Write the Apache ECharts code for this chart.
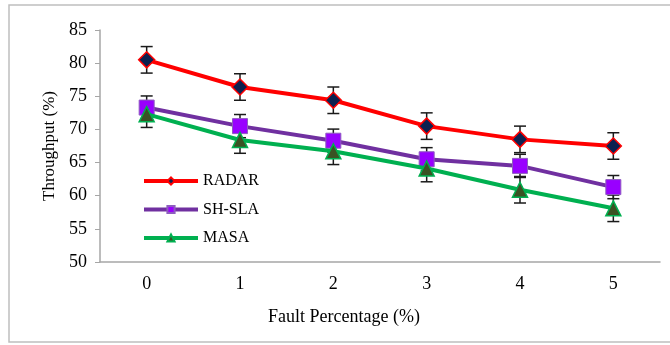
<!DOCTYPE html>
<html>
<head>
<meta charset="utf-8">
<script src="https://cdn.jsdelivr.net/npm/echarts@6/dist/echarts.min.js"></script>
<style>html,body{margin:0;padding:0;background:#fff;}#c{width:670px;height:345px;}</style>
</head>
<body>
<div id="c"></div>
<script>
var categories = ['0', '1', '2', '3', '4', '5'];
var radar = [80.5, 76.4, 74.4, 70.5, 68.5, 67.5];
var shsla = [73.3, 70.5, 68.3, 65.5, 64.5, 61.3];
var masa = [72.3, 68.4, 66.7, 64.1, 60.9, 58.1];
var radarErr = [2, 2, 2, 2, 2, 2];
var shslaErr = [1.75, 1.75, 1.75, 1.75, 1.75, 1.75];
var masaErr = [2, 2, 2, 2, 2, 2];
var yTicks = [50, 55, 60, 65, 70, 75, 80, 85];

var FONT = '"Liberation Serif", "Times New Roman", serif';

function errData(vals, errs) {
  return vals.map(function (v, i) { return [i, v - errs[i], v + errs[i]]; });
}
function errSeries(vals, errs) {
  return {
    type: 'custom',
    data: errData(vals, errs),
    z: 5,
    silent: true,
    encode: { x: 0, y: [1, 2] },
    renderItem: function (params, api) {
      var x = api.value(0);
      var lo = api.coord([x, api.value(1)]);
      var hi = api.coord([x, api.value(2)]);
      var hw = 6;
      var st = { stroke: '#1a1a1a', lineWidth: 1.5 };
      return {
        type: 'group',
        children: [
          { type: 'line', shape: { x1: hi[0], y1: hi[1], x2: lo[0], y2: lo[1] }, style: st },
          { type: 'line', shape: { x1: hi[0] - hw, y1: hi[1], x2: hi[0] + hw, y2: hi[1] }, style: st },
          { type: 'line', shape: { x1: lo[0] - hw, y1: lo[1], x2: lo[0] + hw, y2: lo[1] }, style: st }
        ]
      };
    }
  };
}

var chart = echarts.init(document.getElementById('c'));
chart.setOption({
  animation: false,
  backgroundColor: '#fff',
  textStyle: { fontFamily: FONT },
  graphic: [{
    type: 'rect',
    shape: { x: 9, y: 5, width: 670, height: 337 },
    style: { fill: 'none', stroke: '#bfbfbf', lineWidth: 1.5 },
    silent: true
  }],
  grid: { left: 100, right: 10, top: 30, bottom: 83 },
  legend: {
    orient: 'vertical',
    left: 137,
    top: 168,
    itemWidth: 54,
    itemHeight: 9,
    itemGap: 12.5,
    lineStyle: { width: 4 },
    textStyle: { fontFamily: FONT, fontSize: 16, color: '#000' },
    data: ['RADAR', 'SH-SLA', 'MASA']
  },
  xAxis: {
    type: 'category',
    data: categories,
    boundaryGap: true,
    name: 'Fault Percentage (%)',
    nameLocation: 'middle',
    nameGap: 46,
    nameTextStyle: { fontFamily: FONT, fontSize: 18, color: '#000', padding: [0, 72, 0, 0] },
    axisLine: { lineStyle: { color: '#a6a6a6', width: 1.5 } },
    axisTick: { show: false },
    axisLabel: { fontFamily: FONT, fontSize: 18, color: '#000', margin: 13 }
  },
  yAxis: {
    type: 'value',
    min: yTicks[0],
    max: yTicks[yTicks.length - 1],
    interval: 5,
    name: 'Throughput (%)',
    nameLocation: 'middle',
    nameGap: 40,
    nameTextStyle: { fontFamily: FONT, fontSize: 17, color: '#000' },
    axisLine: { show: true, lineStyle: { color: '#a6a6a6', width: 1.5 } },
    axisTick: { show: true, length: 5, lineStyle: { color: '#a6a6a6' } },
    splitLine: { show: false },
    axisLabel: { fontFamily: FONT, fontSize: 18, color: '#000', margin: 13 }
  },
  series: [
    errSeries(radar, radarErr),
    errSeries(shsla, shslaErr),
    errSeries(masa, masaErr),
    {
      name: 'RADAR', type: 'line', data: radar, z: 10,
      symbol: 'diamond', symbolSize: 16,
      lineStyle: { color: '#ff0000', width: 4 },
      itemStyle: { color: '#0c2150', borderColor: '#ff0000', borderWidth: 1.5 }
    },
    {
      name: 'SH-SLA', type: 'line', data: shsla, z: 9,
      symbol: 'rect', symbolSize: 15,
      lineStyle: { color: '#7030a0', width: 4 },
      itemStyle: { color: '#9900ff', borderColor: '#8e5cc0', borderWidth: 1 }
    },
    {
      name: 'MASA', type: 'line', data: masa, z: 11,
      symbol: 'triangle', symbolSize: 15,
      lineStyle: { color: '#00b050', width: 4 },
      itemStyle: { color: '#3a5224', borderColor: '#00b050', borderWidth: 1.5 }
    }
  ]
});
</script>
</body>
</html>
